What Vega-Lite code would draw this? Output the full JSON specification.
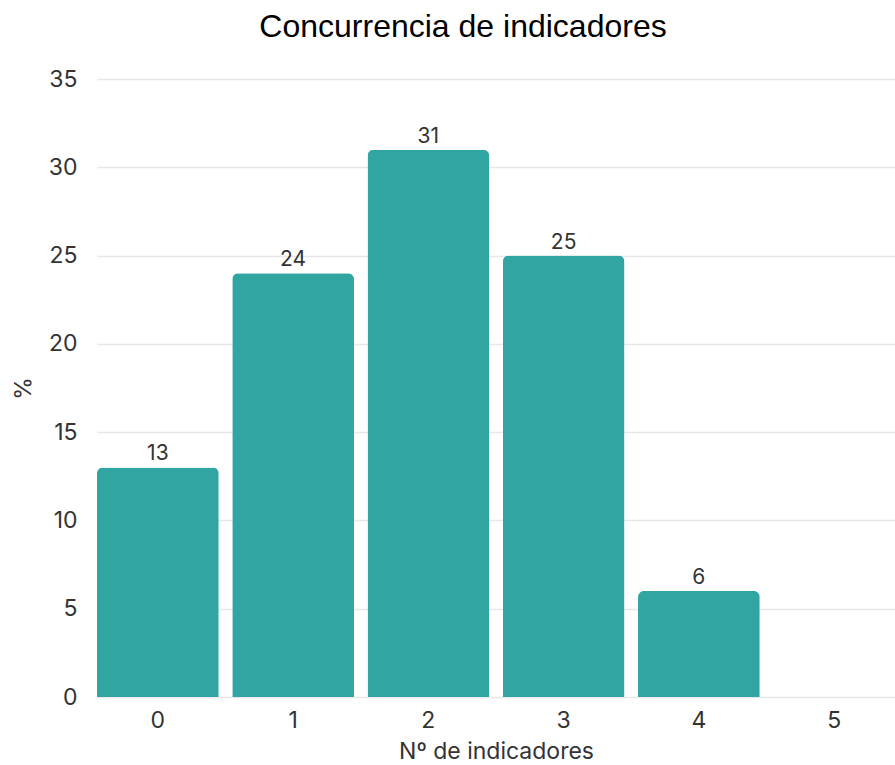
{
  "$schema": "https://vega.github.io/schema/vega-lite/v6.json",
  "autosize": {"type": "none"},
  "padding": {"left": 97, "top": 79, "right": 0, "bottom": 68},
  "width": 798,
  "height": 618,
  "background": "white",
  "title": {
    "text": "Concurrencia de indicadores",
    "anchor": "middle",
    "font": "Liberation Sans",
    "fontSize": 32,
    "fontWeight": "normal",
    "color": "#000000",
    "dx": -33,
    "offset": 24
  },
  "data": {
    "values": [
      {"n": "0", "pct": 13},
      {"n": "1", "pct": 24},
      {"n": "2", "pct": 31},
      {"n": "3", "pct": 25},
      {"n": "4", "pct": 6},
      {"n": "5", "pct": null}
    ]
  },
  "config": {
    "view": {"stroke": null},
    "axis": {
      "labelFont": "Inter",
      "titleFont": "Inter",
      "labelColor": "#333333",
      "titleColor": "#333333",
      "labelFontSize": 23,
      "titleFontSize": 23,
      "titleFontWeight": "normal",
      "domain": false,
      "ticks": false
    }
  },
  "encoding": {
    "x": {
      "field": "n",
      "type": "ordinal",
      "sort": null,
      "scale": {"domain": ["0", "1", "2", "3", "4", "5"], "paddingInner": 0.1, "paddingOuter": 0},
      "axis": {
        "title": "Nº de indicadores",
        "labelAngle": 0,
        "labelPadding": 12,
        "titlePadding": 8,
        "grid": false
      }
    },
    "y": {
      "field": "pct",
      "type": "quantitative",
      "scale": {"domain": [0, 35], "nice": false},
      "axis": {
        "title": "%",
        "values": [0, 5, 10, 15, 20, 25, 30, 35],
        "labelFontSize": 23,
        "labelPadding": 20,
        "titlePadding": 13,
        "grid": true,
        "gridColor": "#e8e8e8",
        "gridWidth": 1.5
      }
    }
  },
  "layer": [
    {
      "mark": {
        "type": "bar",
        "color": "#31a5a2",
        "cornerRadiusTopLeft": 6,
        "cornerRadiusTopRight": 6
      }
    },
    {
      "mark": {
        "type": "text",
        "baseline": "bottom",
        "dy": -3,
        "font": "Inter",
        "fontSize": 21,
        "color": "#333333"
      },
      "encoding": {"text": {"field": "pct", "type": "quantitative"}}
    }
  ]
}
